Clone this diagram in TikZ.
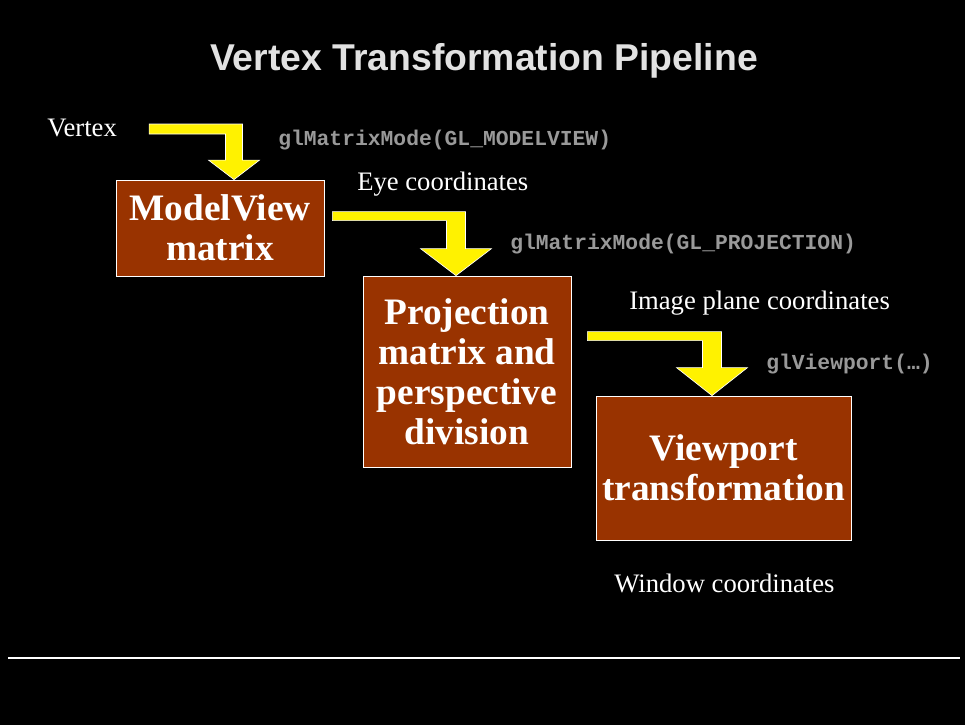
\documentclass[tikz,border=0pt]{standalone}
\usepackage{fontspec}
\setmainfont{Liberation Serif}
\setsansfont{Liberation Sans}
\setmonofont{Liberation Mono}
\usetikzlibrary{calc,positioning}
\definecolor{boxbrown}{RGB}{153,51,0}
\definecolor{codegray}{RGB}{153,153,153}
\definecolor{titlegray}{RGB}{226,226,226}
% start, tip, bar thickness, shaft half width, head half width, head length
\newcommand{\bentarrow}[6]{%
  \draw[fat] (#1) -- ($(#1 -| #2)+(#4,0)$) -- ($(#2)+(#4,-#6)$) -- ($(#2)+(#5,-#6)$)
    -- (#2) -- ($(#2)+(-#5,-#6)$) -- ($(#2)+(-#4,-#6)$) -- ($(#1 -| #2)+(-#4,#3)$)
    -- ($(#1)+(0,#3)$) -- cycle;}

\begin{document}
\begin{tikzpicture}[
  x=0.75pt,y=-0.75pt,
  stage/.style={draw=white,line width=0.6pt,fill=boxbrown,text=white,align=center,inner sep=0pt,
    font=\fontsize{28}{30}\selectfont\bfseries},
  lbl/.style={text=white,inner sep=0pt,anchor=west,font=\fontsize{20}{24}\selectfont},
  code/.style={text=codegray,inner sep=0pt,anchor=west,font=\fontsize{16}{18}\selectfont\ttfamily\bfseries},
  fat/.style={fill=yellow,draw=white,line width=0.5pt}
]
\fill[black] (0,0) rectangle (965,725);
\node[text=titlegray,font=\fontsize{28}{32}\selectfont\sffamily\bfseries] (title) at (484,61) {Vertex Transformation Pipeline};

\node[stage,minimum width=156pt,minimum height=72pt] (mv) at (220,228) {ModelView\\matrix};
\node[stage,minimum width=156pt,minimum height=143.25pt] (proj) at (467,371.5) {Projection\\matrix and\\perspective\\division};
\node[stage,minimum width=191.25pt,minimum height=108pt] (vp) at (723.5,468) {Viewport\\transformation};

\node[lbl] (vertex) at (47,128) {Vertex};
\node[code] (mvcall) at (278,140) {glMatrixMode(GL\_MODELVIEW)};
\node[lbl] (eye) at (357,184) {Eye coordinates};
\node[code] (projcall) at (510,244) {glMatrixMode(GL\_PROJECTION)};
\node[lbl] (img) at (629,303) {Image plane coordinates};
\node[code] (vpcall) at (766,364) {glViewport(…)};
\node[lbl] (win) at (614,583) {Window coordinates};

\coordinate (in1) at ($(vertex.east)+(32,-4)$);
\coordinate (tip1) at ($(mv.north)+(14,0)$);
\coordinate (in2) at ($(mv.north east)+(8,32)$);
\coordinate (tip2) at ($(proj.north)+(-11,0)$);
\coordinate (in3) at ($(proj.north east)+(16,56)$);
\coordinate (tip3) at ($(vp.north)+(-11.5,0)$);
\bentarrow{in1}{tip1}{10}{8.5}{25.5}{19.5}
\bentarrow{in2}{tip2}{9}{9.5}{35.5}{27}
\bentarrow{in3}{tip3}{9}{9.5}{35.5}{28}

\coordinate (rulel) at (8,658);
\coordinate (ruler) at (960,658);
\draw[white,line width=1.2pt] (rulel) -- (ruler);
\end{tikzpicture}
\end{document}
